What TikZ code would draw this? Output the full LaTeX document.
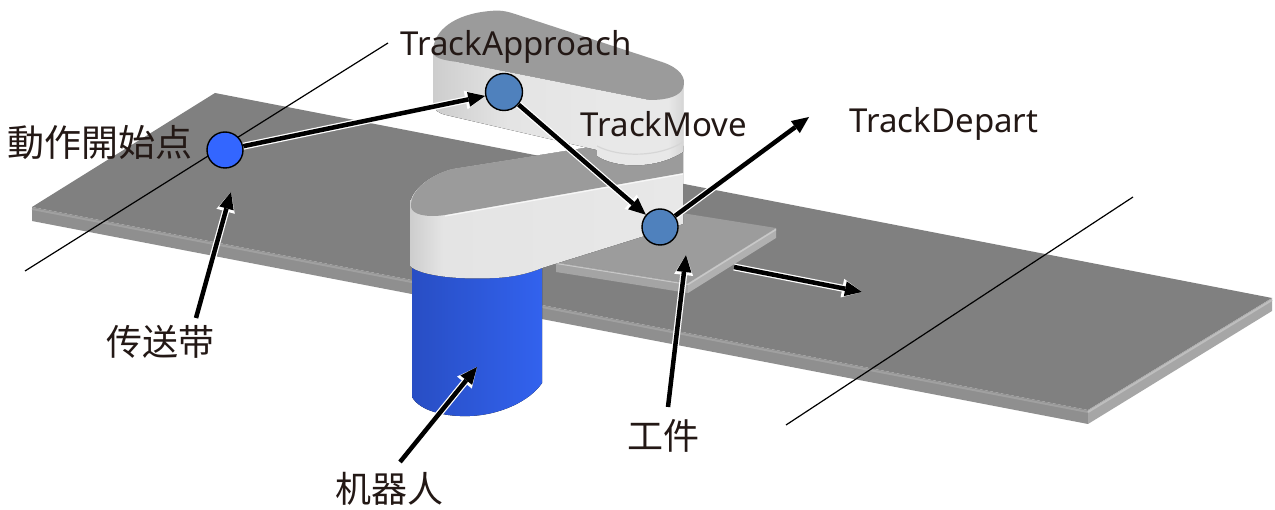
\documentclass[tikz,border=0pt]{standalone}
\usepackage{fontspec}
\setmainfont{Noto Sans}
\newfontfamily\cjk{Noto Sans CJK SC}
\newfontfamily\cjkjp{Noto Sans CJK JP}
\usetikzlibrary{arrows.meta}
\definecolor{convtop}{RGB}{128,128,128}
\definecolor{convfront}{RGB}{143,143,143}
\definecolor{convrim}{RGB}{160,160,160}
\definecolor{convside}{RGB}{166,166,166}
\definecolor{convsiderim}{RGB}{190,190,190}
\definecolor{wptop}{RGB}{156,156,156}
\definecolor{wpfront}{RGB}{164,164,164}
\definecolor{wpside}{RGB}{176,176,176}
\definecolor{wprim}{RGB}{200,200,200}
\definecolor{armtop}{RGB}{155,155,155}
\definecolor{armA}{RGB}{205,205,205}
\definecolor{armB}{RGB}{228,228,228}
\definecolor{armC}{RGB}{232,232,232}
\definecolor{armD}{RGB}{214,214,214}
\definecolor{blueL}{RGB}{40,78,196}
\definecolor{blueM}{RGB}{45,90,224}
\definecolor{blueR}{RGB}{50,98,238}
\definecolor{ptstart}{RGB}{51,102,255}
\definecolor{ptblue}{RGB}{79,129,189}
\definecolor{ink}{RGB}{35,24,21}
\pgfdeclarehorizontalshading{lowarm}{100bp}{color(0bp)=(armA); color(25bp)=(armA); color(31bp)=(armB); color(75bp)=(armC); color(100bp)=(armC)}
\pgfdeclarehorizontalshading{toparm}{100bp}{color(0bp)=(armA); color(25bp)=(armA); color(40bp)=(armB); color(60bp)=(armC); color(72bp)=(armC); color(75bp)=(armD); color(100bp)=(armD)}
\newcommand\harr[2]{%
  \draw[arrw] #1 -- #2;
  \draw[arrb] #1 -- #2;}
\begin{document}
\begin{tikzpicture}[x=1pt,y=-1pt,
  lbl/.style={font=\fontsize{33}{40}\selectfont, text=ink, inner sep=0pt, anchor=base},
  cjklbl/.style={font=\cjk\fontsize{36}{44}\selectfont, text=ink, inner sep=0pt, anchor=base},
  ptnode/.style={circle, draw=black, line width=1.4pt, minimum size=36pt, inner sep=0pt},
  arrw/.style={draw=white, line width=7pt, -{Triangle[length=20pt,width=19pt,line width=0pt]}},
  arrb/.style={draw=black, line width=4.5pt, -{Triangle[length=17pt,width=15pt,line width=0pt]}},
  thinline/.style={draw=black, line width=1.2pt}]
\useasboundingbox (0,0) rectangle (1275,510);
\fill[white] (0,0) rectangle (1275,510);
% conveyor
\fill[convtop] (215,93) -- (1272,298) -- (1088,410) -- (32,207) -- cycle;
\fill[convfront] (32,207) -- (1088,410) -- (1088,424) -- (32,221) -- cycle;
\fill[convside] (1088,410) -- (1272,298) -- (1272,311) -- (1088,424) -- cycle;
\draw[convrim, line width=2pt] (32,209) -- (1088,412);
\draw[convsiderim, line width=2pt] (1088,412) -- (1272,300);
% workpiece
\fill[wptop] (644,207) -- (776,228) -- (688,283) -- (556,262) -- cycle;
\fill[wpfront] (556,262) -- (688,283) -- (688,293) -- (556,272) -- cycle;
\fill[wpside] (688,283) -- (776,228) -- (776,238) -- (688,293) -- cycle;
\draw[wprim, line width=1.5pt] (688,284.5) -- (776,229.5);
\draw[wprim, line width=1pt] (556,263.5) -- (688,284.5);
% robot base
\fill[left color=blueL, middle color=blueM, right color=blueR]
  (412,255) -- (412,397) .. controls (420,411) and (445,417) .. (470,416)
  .. controls (500,415) and (530,401) .. (542,383) -- (542,255) -- cycle;
% lower arm
\fill[shading=lowarm]
  (410,266) -- (410,205) .. controls (410,190) and (430,175) .. (452,169)
  -- (597,146) -- (683,146) -- (683,224) -- (542,268)
  .. controls (530,273) and (515,277) .. (495,278)
  .. controls (460,280) and (420,276) .. (410,266) -- cycle;
\fill[armtop] (411,207) .. controls (410,190) and (430,175) .. (452,169)
  -- (597,146) -- (683,146) -- (683,173) -- (445,215)
  .. controls (425,218) and (412,214) .. (411,207) -- cycle;
\draw[white, line width=1.2pt, opacity=0.7] (445,216) -- (683,174);
% upper arm
\fill[shading=toparm]
  (433,52) -- (433,104) .. controls (434,110) and (438,113) .. (446,115)
  -- (597,150) -- (597,156) .. controls (615,168) and (655,170) .. (683,152)
  -- (683,86) -- (650,100) -- (458,62) -- cycle;
\draw[armD, line width=1.2pt] (597,146) .. controls (620,158) and (660,157) .. (683,142);
\fill[armtop] (433,52) .. controls (433,30) and (455,14) .. (490,11)
  .. controls (500,10) and (506,11) .. (515,14) -- (662,62)
  .. controls (680,68) and (687,78) .. (683,88)
  .. controls (680,96) and (668,100) .. (650,100) -- (458,62)
  .. controls (440,60) and (433,57) .. (433,52) -- cycle;
% thin lines
\coordinate (la1) at (25,271);
\coordinate (la2) at (388,43);
\coordinate (lb1) at (786,425);
\coordinate (lb2) at (1133,197);
\draw[thinline] (la1) -- (la2);
\draw[thinline] (lb1) -- (lb2);
% points
\node[ptnode, fill=ptstart] (start) at (225,150) {};
\node[ptnode, fill=ptblue, minimum size=37pt] (appr) at (504,92) {};
\node[ptnode, fill=ptblue] (move) at (660,227) {};
\coordinate (dep) at (809,117);
% labels
\node[lbl] (lappr) at (516,56) {TrackApproach};
\node[lbl] (lmove) at (664,137) {TrackMove};
\node[lbl] (ldep) at (944,133) {TrackDepart};
\node[cjklbl, font=\cjkjp\fontsize{37}{44}\selectfont] (lstart) at (100,157) {動作開始点};
\node[cjklbl] (lconv) at (160,356) {传送带};
\node[cjklbl] (lrobot) at (389,503) {机器人};
\node[cjklbl] (lwork) at (663,450) {工件};
% arrow ends
\coordinate (convfrom) at (196,318);
\coordinate (convtip) at (231,192);
\coordinate (robfrom) at (400,462);
\coordinate (robtip) at (477,367);
\coordinate (workfrom) at (668,407);
\coordinate (worktip) at (686,255);
\coordinate (flowfrom) at (734,267);
\coordinate (flowtip) at (862,292);
% arrows
\harr{(start)}{(appr)}
\harr{(appr)}{(move)}
\harr{(move)}{(dep)}
\harr{(flowfrom)}{(flowtip)}
\harr{(convfrom)}{(convtip)}
\harr{(robfrom)}{(robtip)}
\harr{(workfrom)}{(worktip)}
\end{tikzpicture}
\end{document}
